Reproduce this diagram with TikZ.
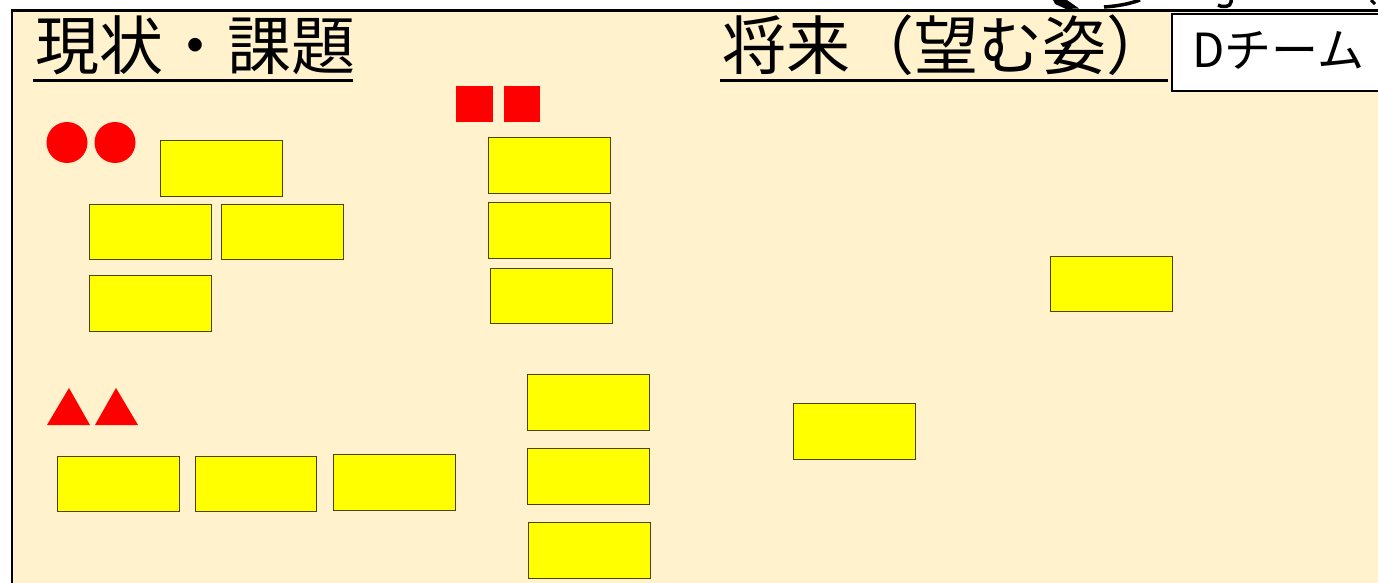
\documentclass[tikz,border=0pt]{standalone}
\usepackage{fontspec}
\newfontfamily\jp{Noto Sans CJK JP}
\definecolor{cream}{HTML}{FFF2CC}
\definecolor{stickyedge}{HTML}{4A4400}
\definecolor{noteyellow}{HTML}{FFFF00}
\definecolor{markred}{HTML}{FF0000}
\tikzset{
  sticky/.style={draw=stickyedge, fill=noteyellow, line width=0.9bp},
  titletext/.style={inner sep=0pt, anchor=base west, font=\jp\fontsize{64bp}{70bp}\selectfont},
  uline/.style={line width=2.5bp},
  redmark/.style={fill=markred},
}
\begin{document}
\begin{tikzpicture}[x=1bp,y=-1bp]
\useasboundingbox (0,0) rectangle (1378,583);
\fill[white] (0,0) rectangle (1378,583);
% frame
\draw[line width=2.5bp, fill=cream] (12,10.5) rectangle (1420,620);
% top fragments of cut-off glyphs
\fill (1053,0) -- (1067,0) -- (1079,8.5) -- (1066,9) -- (1055,4) -- cycle;
\draw[line width=3.5bp] (1104,7) .. controls (1120,6) and (1132,3) .. (1140,0);
\draw[line width=3.5bp] (1231,0) -- (1231,2) .. controls (1231,7) and (1222,8) .. (1218,5);
\draw[line width=3bp] (1371,0) -- (1375,4);
% titles
\node[titletext] (t1) at (35,70) {現状・課題};
\draw[uline] (33,80.5) -- (353,80.5);
\node[titletext] (t2) at (722,70) {将来（望む姿）};
\draw[uline] (720,80.5) -- (1168,80.5);
% team box
\draw[line width=2bp, fill=white] (1172,14) rectangle (1420,91);
\node[inner sep=0pt, anchor=base west, font=\jp\fontsize{47bp}{52bp}\selectfont] (team) at (1192,68) {Dチーム};
% red marks
\fill[redmark] (67,142.5) circle (20.5);
\fill[redmark] (115,142.5) circle (20.5);
\fill[redmark] (456,86) rectangle (493,122);
\fill[redmark] (504,86) rectangle (540,122);
\fill[redmark] (47,425) -- (69,388) -- (90,425) -- cycle;
\fill[redmark] (95,425) -- (116,388) -- (138,425) -- cycle;
% sticky notes
\draw[sticky] (160,140) rectangle (282,196);
\draw[sticky] (89,204) rectangle (211,259);
\draw[sticky] (221,204) rectangle (343,259);
\draw[sticky] (89,275) rectangle (211,331);
\draw[sticky] (57,456) rectangle (179,511);
\draw[sticky] (195,456) rectangle (316,511);
\draw[sticky] (333,454) rectangle (455,510);
\draw[sticky] (488,137) rectangle (610,193);
\draw[sticky] (488,202) rectangle (610,258);
\draw[sticky] (490,268) rectangle (612,323);
\draw[sticky] (527,374) rectangle (649,430);
\draw[sticky] (527,448) rectangle (649,504);
\draw[sticky] (528,522) rectangle (650,578);
\draw[sticky] (1050,256) rectangle (1172,311);
\draw[sticky] (793,403) rectangle (915,459);
\end{tikzpicture}
\end{document}
